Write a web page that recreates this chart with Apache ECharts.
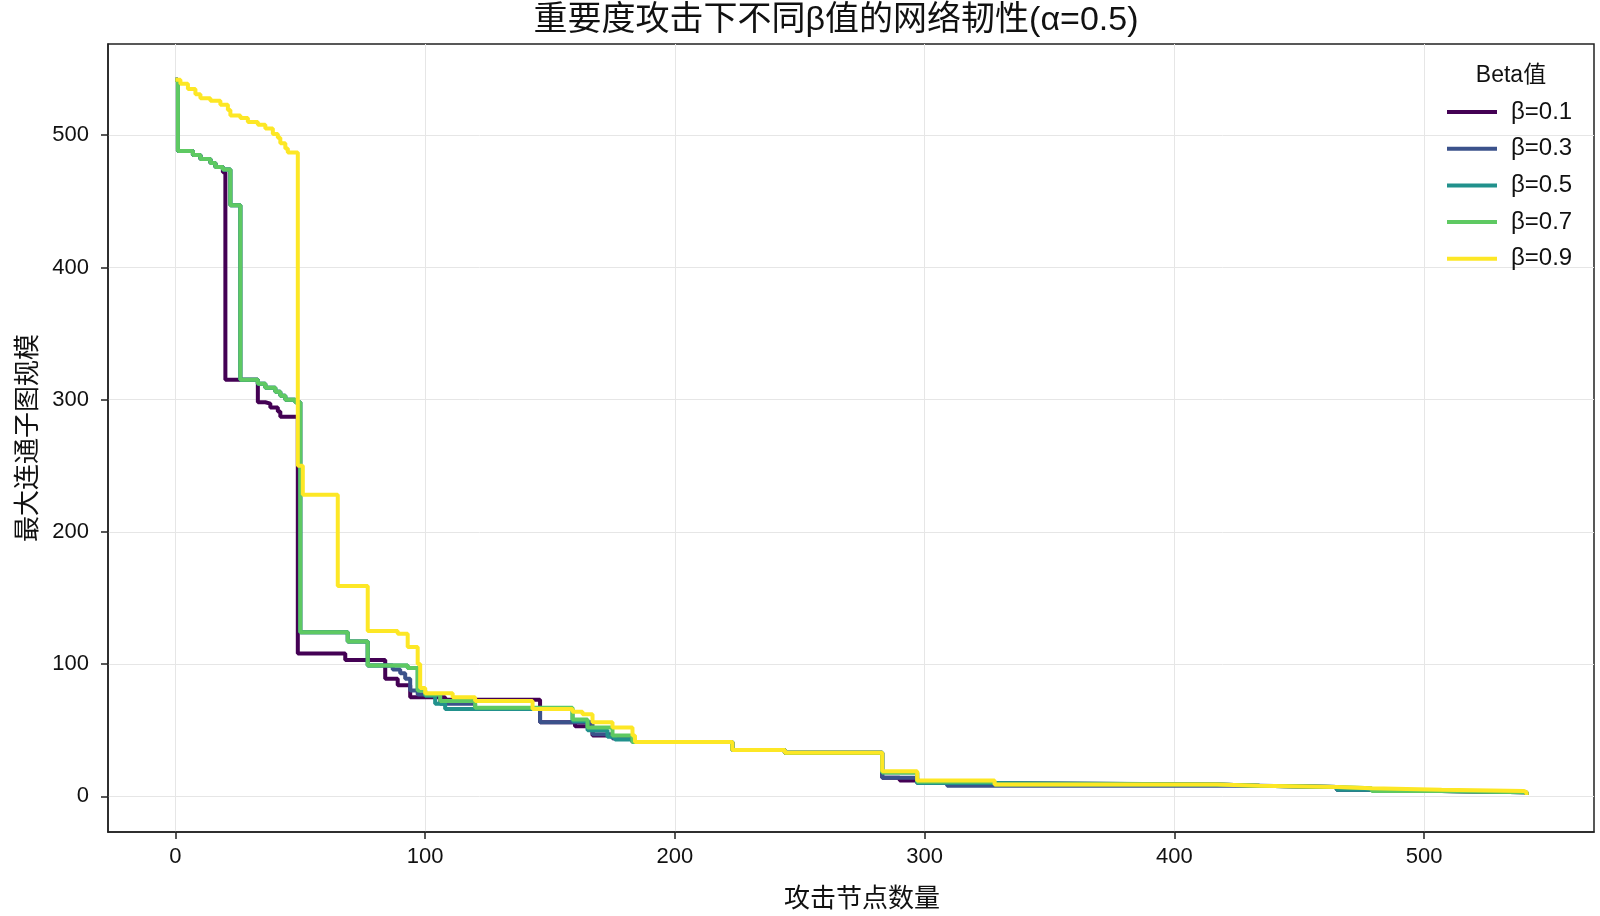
<!DOCTYPE html>
<html>
<head>
<meta charset="utf-8">
<title>重要度攻击下不同β值的网络韧性</title>
<script src="https://cdn.jsdelivr.net/npm/echarts@6.0.0/dist/echarts.min.js"></script>
<style>
  html, body { margin: 0; padding: 0; background: #fff; }
  #chart-container { width: 1600px; height: 916px; }
</style>
</head>
<body>
<div id="chart-container"></div>
<script>
// step change points: [attacked nodes, size of largest component]
const beta01 = [[0,542],[1,488],[7,485],[10,482],[14,479],[16,476],[19,472],[20,315],[33,298],[36,297],[38,294],[41,291],[42,287],[49,108],[68,103],[84,89],[89,84],[94,75],[108,73],[146,56],[160,53],[167,46],[175,44],[183,41],[223,35],[244,33],[283,14],[290,12],[297,10],[309,9],[417,8],[434,7],[465,5],[479,4],[507,3],[541,1]];
const beta03 = [[0,542],[1,488],[7,485],[10,482],[14,479],[16,476],[19,474],[22,447],[26,315],[33,312],[36,309],[40,306],[42,303],[44,300],[48,298],[50,124],[69,117],[77,99],[87,96],[90,93],[92,89],[94,80],[97,77],[106,70],[120,66],[146,56],[167,47],[175,44],[183,41],[223,35],[244,33],[283,14],[297,10],[309,8],[417,8],[434,7],[465,5],[479,4],[507,3],[541,1]];
const beta05 = [[0,542],[1,488],[7,485],[10,482],[14,479],[16,476],[19,474],[22,447],[26,315],[33,312],[36,309],[40,306],[42,303],[44,300],[48,298],[50,124],[69,117],[77,99],[93,97],[97,80],[100,76],[104,70],[108,66],[159,57],[165,50],[173,45],[176,43],[183,41],[223,35],[244,33],[283,18],[297,10],[328,9],[417,8],[434,7],[465,5],[479,4],[507,3],[541,1]];
const beta07 = [[0,542],[1,488],[7,485],[10,482],[14,479],[16,476],[19,474],[22,447],[26,315],[33,312],[36,309],[40,306],[42,303],[44,300],[48,298],[50,124],[69,117],[77,99],[93,97],[97,80],[100,77],[106,72],[120,67],[159,58],[165,52],[175,46],[183,41],[223,35],[244,33],[283,18],[297,11],[328,9],[417,8],[434,7],[465,6],[479,4],[507,3],[541,1]];
const beta09 = [[0,542],[2,539],[5,535],[8,531],[10,528],[14,526],[18,523],[21,519],[22,515],[26,513],[29,510],[33,508],[36,505],[39,501],[41,498],[42,494],[44,490],[45,487],[49,250],[51,228],[65,159],[77,125],[89,123],[93,113],[97,100],[98,82],[100,78],[111,75],[120,72],[143,66],[159,64],[163,62],[167,56],[175,52],[183,46],[184,41],[223,35],[244,33],[283,19],[297,12],[328,9],[417,8],[434,7],[465,6],[479,5],[507,4],[540,3],[541,1]];

const seriesNames = ['β=0.1', 'β=0.3', 'β=0.5', 'β=0.7', 'β=0.9'];
const seriesData = [beta01, beta03, beta05, beta07, beta09];
const colors = ['#440154', '#3b528b', '#21918c', '#5ec962', '#fde725'];
const tickValues = [0, 100, 200, 300, 400, 500];

const font = "'Liberation Sans', 'Noto Sans CJK SC', sans-serif";
const chart = echarts.init(document.getElementById('chart-container'), null, { renderer: 'canvas' });

const option = {
    backgroundColor: '#ffffff',
    animation: false,
    color: colors,
    title: [
        {
            text: '重要度攻击下不同β值的网络韧性(α=0.5)',
            left: 836, top: 4, textAlign: 'center', padding: 0,
            textStyle: { fontFamily: font, fontSize: 34, fontWeight: 'normal', color: '#111' }
        },
        {
            text: 'Beta值',
            left: 1511, top: 64, textAlign: 'center', padding: 0,
            textStyle: { fontFamily: font, fontSize: 23, fontWeight: 'normal', color: '#111' }
        }
    ],
    legend: {
        orient: 'vertical',
        left: 1447, top: 100,
        padding: 0,
        icon: 'rect',
        itemWidth: 50, itemHeight: 4,
        itemGap: 12.7,
        data: seriesNames,
        textStyle: { fontFamily: font, fontSize: 24, color: '#111', padding: [0, 0, 0, 9] }
    },
    grid: {
        left: 108, right: 6, top: 44, bottom: 84,
        show: true, borderColor: '#222', borderWidth: 1.5,
        outerBoundsMode: 'none'
    },
    xAxis: {
        type: 'value',
        min: -27, max: 568,
        name: '攻击节点数量',
        nameLocation: 'middle', nameGap: 55,
        nameTextStyle: { fontFamily: font, fontSize: 26, color: '#111', padding: [0, 0, 0, 22] },
        axisLine: { show: true, onZero: false, lineStyle: { color: '#222', width: 1.5 } },
        axisTick: { show: true, length: 7, customValues: tickValues, lineStyle: { color: '#222', width: 1.5 } },
        axisLabel: { customValues: tickValues, margin: 14, fontFamily: font, fontSize: 22, color: '#111' },
        splitLine: { show: true, lineStyle: { color: '#e6e6e6', width: 1 } }
    },
    yAxis: {
        type: 'value',
        min: -27, max: 569,
        name: '最大连通子图规模',
        nameLocation: 'middle', nameGap: 65, nameRotate: 90,
        nameTextStyle: { fontFamily: font, fontSize: 26, color: '#111' },
        axisLine: { show: true, onZero: false, lineStyle: { color: '#222', width: 1.5 } },
        axisTick: { show: true, length: 7, customValues: tickValues, lineStyle: { color: '#222', width: 1.5 } },
        axisLabel: { customValues: tickValues, margin: 19, fontFamily: font, fontSize: 22, color: '#111' },
        splitLine: { show: true, lineStyle: { color: '#e6e6e6', width: 1 } }
    },
    series: seriesNames.map(function (name, i) {
        return {
            name: name,
            type: 'line',
            step: 'end',
            symbol: 'none',
            data: seriesData[i],
            z: 2 + i,
            lineStyle: { color: colors[i], width: 4 },
            itemStyle: { color: colors[i] }
        };
    })
};
chart.setOption(option);
</script>
</body>
</html>
